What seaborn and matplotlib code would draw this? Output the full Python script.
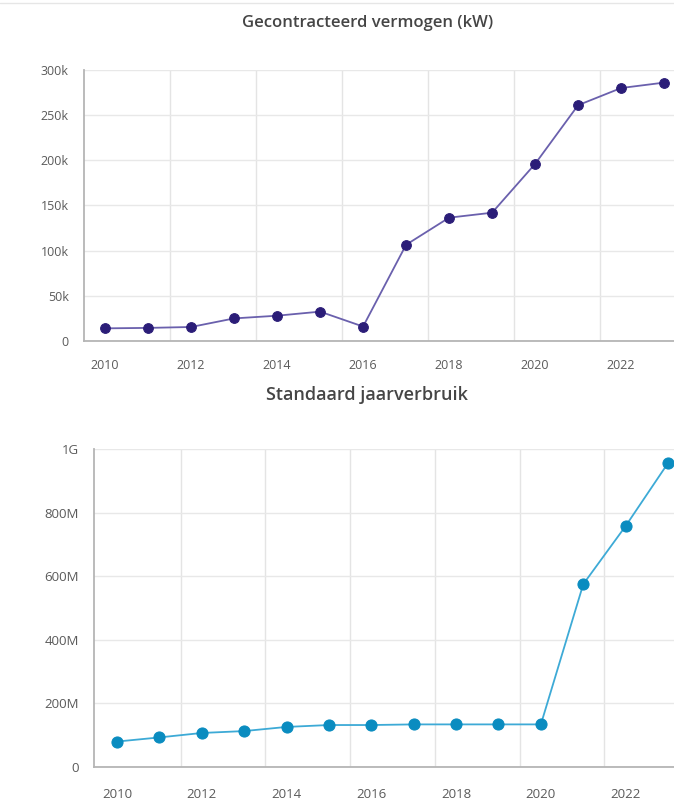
import matplotlib
matplotlib.use("Agg")
import matplotlib.pyplot as plt
from matplotlib.ticker import FuncFormatter, MultipleLocator, FixedLocator
from matplotlib.lines import Line2D
import seaborn as sns

years = list(range(2010, 2024))
# Gecontracteerd vermogen (kW)
vermogen = [14000, 14500, 15500, 25000, 28000, 32500, 16000,
            106500, 136500, 142000, 196000, 261000, 280000, 286000]
# Standaard jaarverbruik
jaarverbruik = [80e6, 93e6, 107e6, 113e6, 126e6, 132e6, 132e6,
                134e6, 134e6, 134e6, 134e6, 575e6, 758e6, 956e6]

title_top = "Gecontracteerd vermogen (kW)"
title_bottom = "Standaard jaarverbruik"

sns.set_style("white")
plt.rcParams['font.family'] = ['Open Sans', 'DejaVu Sans']


def si_fmt(v, pos):
    if v == 0:
        return "0"
    if abs(v) >= 1e9:
        return f"{v/1e9:g}G"
    if abs(v) >= 1e6:
        return f"{v/1e6:g}M"
    if abs(v) >= 1e3:
        return f"{v/1e3:g}k"
    return f"{v:g}"


def style_axes(ax, xlim, ylim, ystep, size, xpad):
    ax.set_xlim(*xlim)
    ax.set_ylim(*ylim)
    ax.xaxis.set_major_locator(MultipleLocator(2))
    ax.xaxis.set_minor_locator(FixedLocator([2011.5 + 2 * i for i in range(6)]))
    ax.yaxis.set_major_locator(MultipleLocator(ystep))
    ax.yaxis.set_major_formatter(FuncFormatter(si_fmt))
    ax.xaxis.set_major_formatter(FuncFormatter(lambda v, p: f"{int(v)}"))
    ax.grid(False)
    ax.grid(axis='y', which='major', color='#e8e8e8', linewidth=1)
    ax.grid(axis='x', which='minor', color='#e4e4e4', linewidth=1)
    for s in ['top', 'right']:
        ax.spines[s].set_visible(False)
    for s in ['left', 'bottom']:
        ax.spines[s].set_color('#b5b5b5')
        ax.spines[s].set_linewidth(1.3)
    ax.tick_params(axis='both', which='major', colors='#b5b5b5', labelcolor='#5a5a5a',
                   labelsize=size, length=4, width=1)
    ax.tick_params(axis='y', which='major', pad=7)
    ax.tick_params(axis='x', which='major', pad=xpad)
    ax.tick_params(axis='x', which='minor', length=0)
    ax.set_xlabel("")
    ax.set_ylabel("")


fig = plt.figure(figsize=(6.74, 8.05), dpi=100)

ax1 = fig.add_axes([0.1246, 0.5764, 0.8754, 0.3367])
sns.lineplot(x=years, y=vermogen, ax=ax1, color='#6a60ad', linewidth=1.3,
             marker='o', markersize=7, markerfacecolor='#2b1d78',
             markeredgecolor='#2b1d78')
style_axes(ax1, (2009.51, 2023.23), (0, 300000), 50000, 9, 9)
fig.text(0.545, 0.972, title_top, ha='center', va='center',
         fontsize=12, color='#454545', fontweight='semibold')

ax2 = fig.add_axes([0.1395, 0.0472, 0.8605, 0.395])
sns.lineplot(x=years, y=jaarverbruik, ax=ax2, color='#3daad6', linewidth=1.3,
             marker='o', markersize=8, markerfacecolor='#0a8cc0',
             markeredgecolor='#0a8cc0')
style_axes(ax2, (2009.46, 2023.14), (0, 1e9), 200e6, 9.5, 11)
fig.text(0.545, 0.509, title_bottom, ha='center', va='center',
         fontsize=13, color='#454545', fontweight='semibold')

fig.add_artist(Line2D([0, 1], [0.996, 0.996], color='#e6e6e6', linewidth=1,
                      transform=fig.transFigure))

fig.savefig("out.png", dpi=100)
